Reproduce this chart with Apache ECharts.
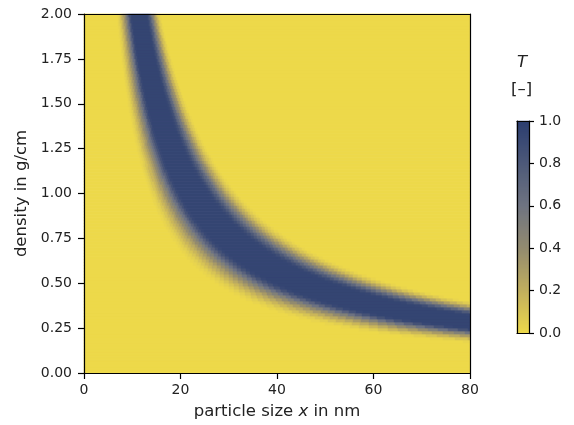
<!DOCTYPE html>
<html><head><meta charset="utf-8">
<script src="https://cdn.jsdelivr.net/npm/echarts@6/dist/echarts.min.js"></script>
<style>html,body{margin:0;padding:0;background:#fff}#c{width:574px;height:425px}</style>
</head><body><div id="c"></div>
<script>
// ---- data ----
const xTicks = [0, 20, 40, 60, 80];
const densityTicks = [0, 0.25, 0.5, 0.75, 1.0, 1.25, 1.5, 1.75, 2.0];
const colorbarTicks = [0, 0.2, 0.4, 0.6, 0.8, 1.0];
// transmission T read along the band as a function of x·ρ (nm·g/cm)
const arealDensity = [13.5,14,14.5,15,15.5,16,16.5,17,17.5,18,18.5,19,19.5,20,20.5,21,21.5,22,22.5,23,23.5,24,24.5,25,25.5,26,26.5,27,27.5,28,28.5,29,29.5,30,30.5,31,31.5,32];
const transmission = [0,0.02,0.05,0.1,0.16,0.23,0.31,0.4,0.5,0.61,0.73,0.84,0.92,0.94,0.94,0.94,0.94,0.94,0.94,0.94,0.94,0.94,0.94,0.94,0.94,0.93,0.88,0.8,0.7,0.59,0.48,0.37,0.27,0.18,0.11,0.06,0.02,0];
const xRange = [0, 80];
const densityRange = [0, 2];
const xCells = 386, densityCells = 120;
const colorbarCells = 106;

// ---- build the cell table ----
function lookupT(m) {
  if (m < arealDensity[0] || m > arealDensity[arealDensity.length - 1]) return 0;
  let best = 0, bd = Infinity;
  for (let k = 0; k < arealDensity.length; k++) {
    const d = Math.abs(arealDensity[k] - m);
    if (d < bd) { bd = d; best = k; }
  }
  return transmission[best];
}
const xCats = [], dCats = [], cells = [];
const dx = (xRange[1] - xRange[0]) / xCells, dd = (densityRange[1] - densityRange[0]) / densityCells;
for (let i = 0; i < xCells; i++) xCats.push(String(i));
for (let j = 0; j < densityCells; j++) dCats.push(String(j));
for (let i = 0; i < xCells; i++) {
  const x = xRange[0] + (i + 0.5) * dx;
  for (let j = 0; j < densityCells; j++) {
    const r = densityRange[0] + (j + 0.5) * dd;
    cells.push([i, j, lookupT(x * r)]);
  }
}
const cbCats = [], cbCells = [];
for (let j = 0; j < colorbarCells; j++) { cbCats.push(String(j)); cbCells.push([0, j, (j + 0.5) / colorbarCells]); }

const FONT = 'DejaVu Sans';
const TXT = '#222222';
const chart = echarts.init(document.getElementById('c'), null, {renderer: 'canvas'});
const lineOnly = (extra) => Object.assign({
  axisLine: {show: true, onZero: false, lineStyle: {color: '#000', width: 1.2}},
  axisTick: {show: false}, axisLabel: {show: false}, splitLine: {show: false}, z: 10
}, extra);

chart.setOption({
  animation: false,
  backgroundColor: '#fff',
  grid: [
    {left: 84, top: 14, width: 386, height: 360, containLabel: false},
    {left: 517, top: 121, width: 12, height: 212, containLabel: false}
  ],
  visualMap: {
    show: false, type: 'continuous', min: 0, max: 1, seriesIndex: [0, 1],
    inRange: {color: ['#EDD94B', '#C1AF5E', '#938B6F', '#6F7481', '#4D5979', '#2B3D70']}
  },
  xAxis: [
    {type: 'category', gridIndex: 0, data: xCats, show: false},
    {type: 'value', gridIndex: 0, min: xRange[0], max: xRange[1], interval: 20, position: 'bottom',
      axisLine: {show: true, onZero: false, lineStyle: {color: '#000', width: 1.2}},
      axisTick: {show: true, length: 6, lineStyle: {color: '#000', width: 1.2}},
      axisLabel: {color: TXT, fontFamily: FONT, fontSize: 14, margin: 10},
      splitLine: {show: false}, z: 10,
      name: '{n|particle size }{i|x}{n| in nm}', nameLocation: 'middle', nameGap: 30,
      nameTextStyle: {rich: {n: {fontFamily: FONT, fontSize: 16.5, color: TXT}, i: {fontFamily: FONT, fontSize: 16.5, fontStyle: 'italic', color: TXT}}}},
    lineOnly({type: 'value', gridIndex: 0, min: 0, max: 80, position: 'top'}),
    {type: 'category', gridIndex: 1, data: ['0'], show: false},
    lineOnly({type: 'value', gridIndex: 1, min: 0, max: 1, position: 'top'}),
    lineOnly({type: 'value', gridIndex: 1, min: 0, max: 1, position: 'bottom'})
  ],
  yAxis: [
    {type: 'category', gridIndex: 0, data: dCats, show: false},
    {type: 'value', gridIndex: 0, min: densityRange[0], max: densityRange[1], interval: 0.25, position: 'left',
      axisLine: {show: true, onZero: false, lineStyle: {color: '#000', width: 1.2}},
      axisTick: {show: true, length: 6, lineStyle: {color: '#000', width: 1.2}},
      axisLabel: {color: TXT, fontFamily: FONT, fontSize: 14, margin: 12, formatter: v => v.toFixed(2)},
      splitLine: {show: false}, z: 10,
      name: 'density in g/cm', nameLocation: 'middle', nameGap: 48,
      nameTextStyle: {fontFamily: FONT, fontSize: 16.5, color: TXT}},
    lineOnly({type: 'value', gridIndex: 0, min: 0, max: 2, position: 'right'}),
    {type: 'category', gridIndex: 1, data: cbCats, show: false},
    {type: 'value', gridIndex: 1, min: 0, max: 1, interval: 0.2, position: 'right',
      axisLine: {show: true, onZero: false, lineStyle: {color: '#000', width: 1.2}},
      axisTick: {show: true, length: 5, lineStyle: {color: '#000', width: 1.2}},
      axisLabel: {color: TXT, fontFamily: FONT, fontSize: 14, margin: 10, formatter: v => v.toFixed(1)},
      splitLine: {show: false}, z: 10},
    lineOnly({type: 'value', gridIndex: 1, min: 0, max: 1, position: 'left'})
  ],
  series: [
    {type: 'heatmap', xAxisIndex: 0, yAxisIndex: 0, data: cells, progressive: 0, emphasis: {disabled: true}, itemStyle: {borderWidth: 0}},
    {type: 'heatmap', xAxisIndex: 3, yAxisIndex: 3, data: cbCells, progressive: 0, emphasis: {disabled: true}, itemStyle: {borderWidth: 0}}
  ],
  graphic: [
    {type: 'text', left: 517, top: 54, style: {text: 'T', fontFamily: FONT, fontSize: 16.5, fontStyle: 'italic', fill: TXT}},
    {type: 'text', left: 511, top: 81, style: {text: '[–]', fontFamily: FONT, fontSize: 16.5, fill: TXT}}
  ]
});
</script></body></html>
